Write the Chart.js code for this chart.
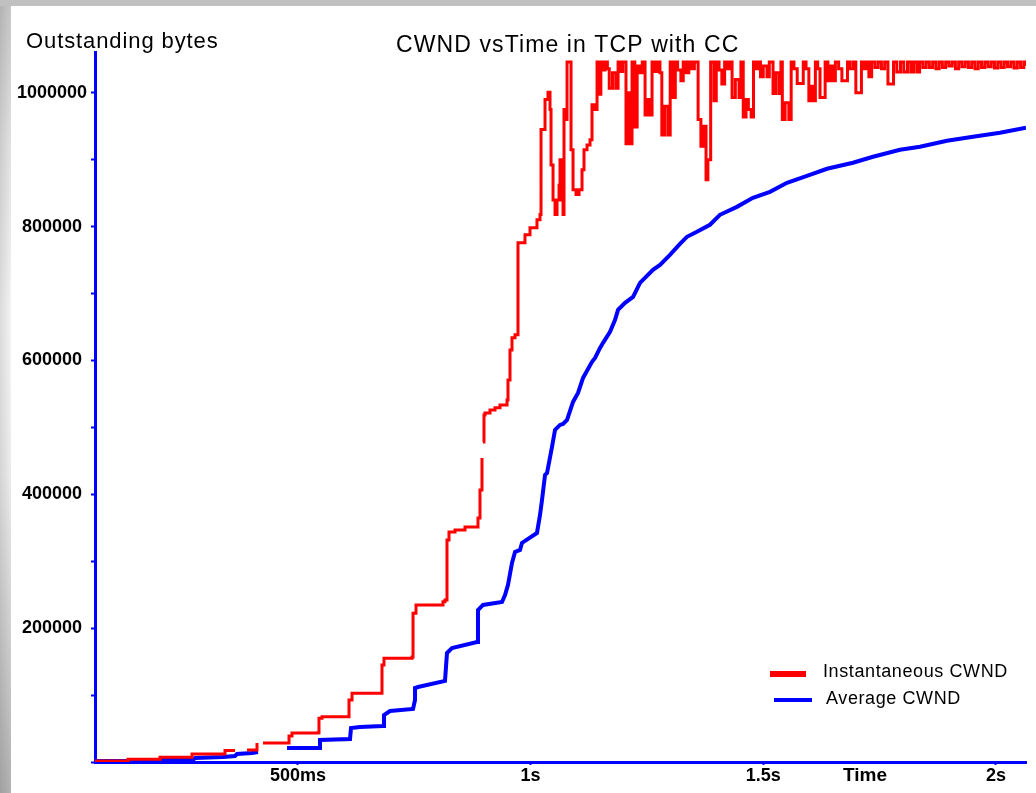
<!DOCTYPE html>
<html><head><meta charset="utf-8">
<script src="https://cdn.jsdelivr.net/npm/chart.js@4.4.1/dist/chart.umd.min.js"></script>
<style>
html,body{margin:0;padding:0;width:1036px;height:793px;overflow:hidden;background:#fff;}
#leftbar{position:absolute;left:0;top:0;width:11px;height:793px;
 background:linear-gradient(to right, rgba(0,0,0,0.10), rgba(0,0,0,0) 100%),
 linear-gradient(to bottom,#c6c6c6 0%,#e2e2e2 18%,#f4f4f4 40%,#ececec 60%,#d0d0d0 80%,#b2b2b2 100%);}
#topbar{position:absolute;left:0;top:0;width:1036px;height:6px;background:#c0c0c0;}
#wrap{position:absolute;left:0;top:0;width:1036px;height:793px;}
</style>
</head><body>
<div id="leftbar"></div><div id="topbar"></div>
<div id="wrap"><canvas id="c" width="1036" height="793"></canvas></div>
<script>
// ---- texts ----
const chartTitle = 'CWND vsTime in TCP with CC';
const yAxisTitle = 'Outstanding bytes';
const xAxisTitle = 'Time';
const seriesLabels = ['Instantaneous CWND', 'Average CWND'];

// ---- axes ----
const xMin = 0.0638, xMax = 2.0647;       // seconds
const yMin = 0, yMax = 1061000;           // bytes
const xTickValues = [0.5, 1, 1.5, 2];
const xTickLabels = ['500ms', '1s', '1.5s', '2s'];
const yTickValues = [0, 100000, 200000, 300000, 400000, 500000, 600000, 700000, 800000, 900000, 1000000];
const yTickLabels = ['', '', '200000', '', '400000', '', '600000', '', '800000', '', '1000000'];

// ---- Instantaneous CWND (time s, bytes) ----
const redTimes = [
 0.0638,0.1348,0.1348,0.2035,0.2035,0.2723,0.2723,0.3432,0.3432,0.3647,0.3700,
 0.3905,0.4120,0.4120,0.4180,0.4249,0.4765,0.4808,0.4872,0.5431,0.5452,0.5517,
 0.6076,0.6097,0.6162,0.6806,0.6806,0.6849,0.7451,0.7473,0.7537,0.8117,0.8160,
 0.8203,0.8203,0.8246,0.8375,0.8590,0.8869,0.8912,0.8955,0.8966,0.8977,0.8998,
 0.9020,0.9127,0.9235,0.9342,0.9493,0.9514,0.9557,0.9600,0.9665,0.9729,0.9729,
 0.9879,0.9987,1.0137,
 1.0202,1.0224,1.0267,1.0310,1.0374,1.0417,1.0439,1.0482,1.0525,1.0568,1.0611,
 1.0632,1.0654,1.0697,1.0718,1.0761,1.0783,1.0847,1.0869,1.0912,1.0976,1.1041,
 1.1105,1.1148,1.1213,1.1277,1.1320,1.1385,1.1428,
 1.147,1.151,1.156,1.160,1.165,1.169,1.176,1.183,1.188,1.193,1.198,1.205,1.210,
 1.214,1.218,1.224,1.229,1.234,1.240,1.246,1.251,1.256,1.261,1.267,1.272,1.278,
 1.282,1.288,1.295,1.300,1.306,1.311,1.316,1.323,1.328,1.334,1.340,1.346,1.352,
 1.360,1.366,1.372,1.377,1.381,1.387,1.394,1.399,1.405,1.411,1.417,1.423,1.428,
 1.433,1.440,1.448,1.452,1.457,1.463,1.468,1.474,1.479,1.485,1.491,1.494,1.500,
 1.508,1.513,1.521,1.527,1.534,1.538,1.541,1.547,1.555,1.560,1.566,1.573,1.581,
 1.586,1.592,1.598,1.604,1.607,1.612,1.617,1.622,1.628,1.633,1.639,1.645,1.650,
 1.655,1.662,1.669,1.676,1.681,1.687,1.694,1.699,1.706,1.711,1.717,1.722,1.727,
 1.733,1.740,1.747,1.754,1.761,1.768,1.775,1.780,1.787,1.795,1.802,1.810,1.817,
 1.823,1.830,1.836,1.843,1.850,1.857,1.864,1.871,1.878,1.885,1.892,1.899,1.906,
 1.913,1.920,1.927,1.934,1.941,1.948,1.955,1.962,1.969,1.976,1.983,1.990,1.997,
 2.004,2.011,2.018,2.025,2.032,2.039,2.046,2.053,2.060,2.064
];
const redBytes = [
 1500,1500,4000,4000,7000,7000,12000,12000,17000,17000,null,
 18000,18000,28400,null,28400,28400,38900,43300,43800,65300,67700,
 67700,92700,102700,102700,145000,155000,157000,222300,234700,239600,242200,
 242200,331800,343800,346800,351300,364700,406600,454400,null,478300,518700,
 521700,526200,529200,533600,541100,571000,615800,633800,638300,648700,775800,
 787800,798200,810200,
 818000,945000,945000,990000,1001000,975000,892000,840000,818000,840000,862000,
 900000,840000,818000,975000,960000,1046000,1046000,915000,855000,848000,855000,
 885000,915000,922000,930000,982000,975000,1046000,
 998000,1046000,1034000,1046000,1036000,1007000,1030000,1007000,1046000,1032000,1046000,924000,1000000,
 924000,1046000,949000,1040000,1030000,1046000,967000,990000,967000,1046000,1032000,1046000,1030000,
 937000,980000,937000,1046000,993000,1046000,1034000,1018000,1046000,1030000,1046000,1036000,1046000,
 960000,920000,950000,870000,900000,1046000,988000,1046000,1034000,1013000,1046000,1036000,1046000,
 993000,1020000,993000,1046000,964000,990000,975000,964000,1046000,1036000,1046000,1024000,1040000,
 1024000,1046000,999000,1030000,999000,1046000,960000,985000,960000,1046000,1036000,1014000,1014000,
 1046000,1036000,988000,1010000,988000,1046000,1036000,993000,993000,1046000,1018000,1040000,1018000,
 1046000,1036000,1018000,1018000,1046000,1036000,1046000,1000000,1000000,1046000,1036000,1046000,1024000,
 1046000,1038000,1046000,1036000,1046000,1013000,1013000,1046000,1031000,1046000,1031000,1046000,1031000,
 1046000,1031000,1046000,1038000,1046000,1038000,1046000,1036000,1046000,1038000,1046000,1040000,1046000,
 1036000,1046000,1039000,1046000,1038000,1046000,1036000,1046000,1038000,1046000,1039000,1046000,1037000,
 1046000,1038000,1046000,1039000,1046000,1037000,1046000,1038000,1046000,1040000
];

// ---- Average CWND (time s, bytes) ----
const blueTimes = [
 0.0638,0.2035,0.2035,0.2744,0.2787,0.3389,0.3647,0.3690,0.4012,0.4141,0.4200,
 0.4765,0.5474,0.5474,0.6119,0.6140,0.6334,0.6828,0.6849,0.6978,0.7473,0.7516,
 0.7516,0.7580,0.8160,0.8203,0.8311,0.8848,0.8869,0.8977,0.9385,0.9450,0.9514,
 0.9600,0.9665,0.9772,0.9815,1.0137,1.0202,1.0245,1.0310,1.0353,1.0460,1.0525,
 1.0632,1.0697,1.0783,1.0912,1.1019,1.1127,1.1213,1.1320,1.1385,1.1492,1.1557,
 1.1707,1.1815,1.1879,1.2030,1.2202,1.2351,1.2630,1.2781,1.2995,1.3210,1.3360,
 1.3575,1.3854,1.4069,1.4434,1.4778,1.5145,1.5510,1.5940,1.6370,1.6929,1.7359,
 1.7939,1.8369,1.8949,1.9508,2.0088,2.0647
];
const blueBytes = [
 1500,1500,3000,3000,6000,7500,9000,12000,13500,15000,null,
 20900,20900,32900,34400,50800,52300,53800,70300,76200,79200,92700,
 110600,112100,121100,162900,170400,179400,227200,234700,239200,249600,264600,
 297500,313900,316900,327400,342300,369200,391600,429000,432000,470900,496300,
 503700,505200,511200,538100,551600,574000,584500,597900,603900,618900,626400,
 642800,660700,675700,686100,695100,716000,735500,742900,757900,774300,784800,
 792300,802800,817700,829600,843100,852100,865500,876000,886500,895500,904400,
 914800,919300,928300,934300,940300,947700
];

const seriesColors = ['#ff0000', '#0000ff'];

function pts(ts, vs){ return ts.map((t,i)=>({x:t, y:vs[i]})); }

const textPlugin = {
  id: 'texts',
  afterDraw(chart){
    const c = chart.ctx, a = chart.chartArea;
    c.save();
    c.fillStyle = '#000';
    c.textAlign = 'left';
    c.textBaseline = 'alphabetic';
    c.font = '22px "Liberation Sans", Arial, sans-serif';
    c.letterSpacing = '0.9px';
    c.fillText(yAxisTitle, 26, a.top - 4);
    c.font = '23px "Liberation Sans", Arial, sans-serif';
    c.letterSpacing = '1.1px';
    c.fillText(chartTitle, 396, a.top);
    c.letterSpacing = '0px';
    c.font = 'bold 19px "Liberation Sans", Arial, sans-serif';
    c.textBaseline = 'middle';
    c.fillText(xAxisTitle, 843, a.bottom + 14);
    // legend
    const ds = chart.data.datasets;
    const rows = [
      {x0:770, x1:806, y:674, w:6, tx:823, ty:672},
      {x0:774, x1:812, y:700, w:4, tx:826, ty:699}
    ];
    c.font = '18px "Liberation Sans", Arial, sans-serif';
    c.letterSpacing = '0.6px';
    rows.forEach((r,i)=>{
      c.strokeStyle = ds[i].borderColor;
      c.lineWidth = r.w;
      c.lineCap = 'butt';
      c.beginPath(); c.moveTo(r.x0, r.y); c.lineTo(r.x1, r.y); c.stroke();
      c.fillStyle = '#000';
      c.fillText(ds[i].label, r.tx, r.ty);
    });
    c.restore();
  }
};

new Chart(document.getElementById('c'), {
  type: 'line',
  data: {
    datasets: [
      {label: seriesLabels[0], data: pts(redTimes, redBytes), borderColor: seriesColors[0],
       borderWidth: 3, pointRadius: 0, tension: 0, stepped: true, spanGaps: false, fill: false},
      {label: seriesLabels[1], data: pts(blueTimes, blueBytes), borderColor: seriesColors[1],
       borderWidth: 4, pointRadius: 0, tension: 0, spanGaps: false, fill: false}
    ]
  },
  options: {
    responsive: false, animation: false, devicePixelRatio: 1,
    layout: {padding: {top: 52, right: 10, bottom: 0, left: 0}},
    plugins: {legend: {display: false}, title: {display: false}, tooltip: {enabled: false}},
    scales: {
      x: {
        type: 'linear', min: xMin, max: xMax,
        afterBuildTicks: s => { s.ticks = xTickValues.map(v => ({value: v})); },
        afterFit: s => { s.height = 31; },
        ticks: {
          callback: (v, i) => xTickLabels[i],
          font: {family: '"Liberation Sans", Arial, sans-serif', weight: 'bold', size: 18, lineHeight: 1},
          color: '#000', padding: 2, maxRotation: 0, autoSkip: false
        },
        grid: {drawOnChartArea: false, tickLength: 3, tickColor: '#0000ff', tickWidth: 2},
        border: {display: true, color: '#0000ff', width: 3}
      },
      y: {
        type: 'linear', min: yMin, max: yMax,
        afterBuildTicks: s => { s.ticks = yTickValues.map(v => ({value: v})); },
        afterFit: s => { s.width = 95; },
        ticks: {
          crossAlign: 'center', padding: 4,
          callback: (v, i) => yTickLabels[i],
          font: {family: '"Liberation Sans", Arial, sans-serif', weight: 'bold', size: 18},
          color: '#000', autoSkip: false
        },
        grid: {drawOnChartArea: false, tickLength: 4, tickColor: '#0000ff', tickWidth: 2},
        border: {display: true, color: '#0000ff', width: 3}
      }
    }
  },
  plugins: [textPlugin]
});
</script>
</body></html>
